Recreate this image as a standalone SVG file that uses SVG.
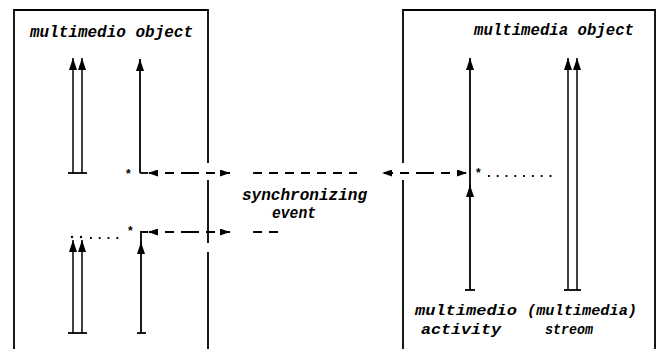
<svg xmlns="http://www.w3.org/2000/svg" width="661" height="349" viewBox="0 0 661 349">
<defs>
<style>
.ln{stroke:#000;stroke-width:1.8;fill:none}
.thin{stroke:#000;stroke-width:1.5;fill:none}
.dash{stroke:#000;stroke-width:1.8;fill:none;stroke-dasharray:9 7}
.dot{stroke:#000;stroke-width:2.2;fill:none;stroke-dasharray:1.8 7;stroke-linecap:butt}
.t{font-family:"Liberation Mono","DejaVu Sans Mono",monospace;font-style:italic;font-weight:bold;font-size:16px;fill:#000}
.s{font-size:14px}
.ast{font-family:"Liberation Sans",Arial,sans-serif;font-size:12px;font-weight:bold;fill:#000}
</style>
<marker id="ah" viewBox="0 0 12 8" refX="12" refY="4" markerWidth="12" markerHeight="8" markerUnits="userSpaceOnUse" orient="auto">
<path d="M0,0 L12,4 L0,8 z" fill="#000"/>
</marker>
<marker id="ahs" viewBox="0 0 10 7" refX="10" refY="3.5" markerWidth="10" markerHeight="7" markerUnits="userSpaceOnUse" orient="auto">
<path d="M0,0 L10,3.5 L0,7 z" fill="#000"/>
</marker>
</defs>

<g id="left-object">
<path class="ln" d="M14,349 V10 H208 V163 M208,180 V243 M208,252 V349"/>
<text class="t" x="30" y="37" textLength="163" lengthAdjust="spacingAndGlyphs">multimedio object</text>
<line class="thin" x1="73" y1="173" x2="73" y2="58" marker-end="url(#ah)"/>
<line class="thin" x1="82" y1="173" x2="82" y2="58" marker-end="url(#ah)"/>
<line class="ln" x1="68" y1="173" x2="87" y2="173"/>
<line class="ln" x1="140" y1="173" x2="140" y2="59" marker-end="url(#ah)"/>
<line class="ln" x1="140" y1="173" x2="148" y2="173"/>
<text class="ast" x="126" y="178">*</text>
<line class="thin" x1="73" y1="333" x2="73" y2="240" marker-end="url(#ah)"/>
<line class="thin" x1="82" y1="333" x2="82" y2="240" marker-end="url(#ah)"/>
<line class="ln" x1="68" y1="333" x2="87" y2="333"/>
<circle cx="72" cy="237" r="1.2" fill="#000"/>
<circle cx="81" cy="237" r="1.2" fill="#000"/>
<line class="dot" x1="90" y1="238" x2="124" y2="238"/>
<text class="ast" x="128" y="235">*</text>
<line class="ln" x1="141" y1="333" x2="141" y2="242" marker-end="url(#ah)"/>
<path class="ln" d="M141,244 V232 H148"/>
<line class="ln" x1="137" y1="333" x2="146" y2="333"/>
</g>

<g id="right-object">
<path class="ln" d="M403,349 V180 M403,163 V10 H655 V349"/>
<text class="t" x="474" y="35" textLength="160" lengthAdjust="spacingAndGlyphs">multimedia object</text>
<line class="ln" x1="470" y1="290" x2="470" y2="185" marker-end="url(#ah)"/>
<line class="ln" x1="470" y1="190" x2="470" y2="58" marker-end="url(#ah)"/>
<line class="ln" x1="465" y1="290" x2="475" y2="290"/>
<text class="ast" x="476" y="177">*</text>
<line class="dot" x1="488" y1="176" x2="558" y2="176"/>
<line class="thin" x1="568" y1="290" x2="568" y2="58" marker-end="url(#ah)"/>
<line class="thin" x1="577" y1="290" x2="577" y2="58" marker-end="url(#ah)"/>
<line class="ln" x1="564" y1="290" x2="581" y2="290"/>
<text class="t s" x="415" y="315" textLength="102" lengthAdjust="spacingAndGlyphs">multimedio</text>
<text class="t s" x="421" y="334" textLength="80" lengthAdjust="spacingAndGlyphs">activity</text>
<text class="t s" x="527" y="315" textLength="110" lengthAdjust="spacingAndGlyphs">(multimedia)</text>
<text class="t s" x="545" y="334" textLength="48" lengthAdjust="spacingAndGlyphs">streom</text>
</g>

<g id="sync-label">
<text class="t" x="242" y="200" textLength="125" lengthAdjust="spacingAndGlyphs">synchronizing</text>
<text class="t" x="272" y="218" textLength="44" lengthAdjust="spacingAndGlyphs">event</text>
</g>

<g id="connectors">
<line class="dash" x1="190" y1="173" x2="148" y2="173" marker-end="url(#ahs)"/>
<line class="dash" x1="190" y1="173" x2="230" y2="173" marker-end="url(#ahs)"/>
<line class="dash" x1="253" y1="173" x2="357" y2="173"/>
<line class="dash" x1="425" y1="173" x2="382" y2="173" marker-end="url(#ahs)"/>
<line class="dash" x1="425" y1="173" x2="467" y2="173" marker-end="url(#ahs)"/>
<line class="dash" x1="190" y1="232" x2="148" y2="232" marker-end="url(#ahs)"/>
<line class="dash" x1="190" y1="232" x2="230" y2="232" marker-end="url(#ahs)"/>
<line class="dash" x1="253" y1="232" x2="280" y2="232"/>
</g>
</svg>
